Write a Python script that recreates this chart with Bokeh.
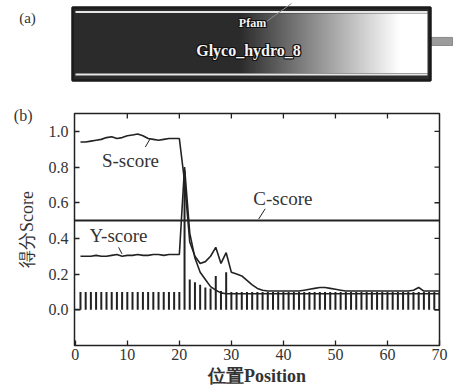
import numpy as np
from bokeh.plotting import figure
from bokeh.models import (Range1d, LinearAxis, ColumnDataSource, FixedTicker,
                          LinearColorMapper, Span)
from bokeh.palettes import Greys256
from bokeh.layouts import column, row
from bokeh.embed import file_html
from bokeh.resources import INLINE
from bokeh.core.properties import value

# ---------------- data ----------------
positions = list(range(1, 71))
s_score = [0.94, 0.94, 0.945, 0.95, 0.955, 0.965, 0.97, 0.96, 0.965, 0.975,
           0.98, 0.985, 0.975, 0.96, 0.955, 0.95, 0.955, 0.96, 0.96, 0.96,
           0.72, 0.38, 0.30, 0.26, 0.27, 0.30, 0.35, 0.26, 0.32, 0.21,
           0.20, 0.19, 0.165, 0.14, 0.12, 0.11, 0.105, 0.105, 0.105, 0.105,
           0.105, 0.105, 0.105, 0.11, 0.115, 0.12, 0.125, 0.125, 0.12, 0.115,
           0.11, 0.105, 0.105, 0.105, 0.105, 0.105, 0.105, 0.105, 0.105, 0.105,
           0.105, 0.105, 0.105, 0.105, 0.11, 0.125, 0.105, 0.105, 0.105, 0.105]
y_score = [0.30, 0.30, 0.30, 0.305, 0.30, 0.30, 0.305, 0.31, 0.30, 0.305,
           0.305, 0.31, 0.305, 0.305, 0.31, 0.31, 0.305, 0.31, 0.31, 0.31,
           0.80, 0.43, 0.29, 0.21, 0.17, 0.13, 0.11, 0.095, 0.09, 0.09,
           0.09, 0.09, 0.09, 0.09, 0.09, 0.09, 0.09, 0.09, 0.09, 0.09,
           0.09, 0.09, 0.09, 0.09, 0.09, 0.09, 0.09, 0.09, 0.09, 0.09,
           0.09, 0.09, 0.09, 0.09, 0.09, 0.09, 0.09, 0.09, 0.09, 0.09,
           0.09, 0.09, 0.09, 0.09, 0.09, 0.09, 0.09, 0.09, 0.09, 0.09]
c_raw = [0.10, 0.10, 0.10, 0.10, 0.10, 0.10, 0.10, 0.10, 0.10, 0.10,
         0.10, 0.10, 0.10, 0.10, 0.10, 0.10, 0.10, 0.10, 0.10, 0.10,
         0.78, 0.17, 0.155, 0.14, 0.125, 0.12, 0.19, 0.105, 0.21, 0.10,
         0.10, 0.10, 0.10, 0.10, 0.10, 0.10, 0.10, 0.10, 0.10, 0.10,
         0.10, 0.10, 0.10, 0.10, 0.10, 0.10, 0.10, 0.10, 0.10, 0.10,
         0.10, 0.10, 0.10, 0.10, 0.10, 0.10, 0.10, 0.10, 0.10, 0.10,
         0.10, 0.10, 0.10, 0.10, 0.10, 0.10, 0.10, 0.10, 0.10, 0.10]
c_cutoff = 0.5
x_ticks = [0, 10, 20, 30, 40, 50, 60, 70]
x_tick_labels = ["0", "10", "20", "30", "40", "50", "60", "70"]
y_ticks = [0.0, 0.2, 0.4, 0.6, 0.8, 1.0]
y_tick_labels = ["0.0", "0.2", "0.4", "0.6", "0.8", "1.0"]

# panel (a): domain schematic (residue coordinates)
domain_db = "Pfam"
domain_name = "Glyco_hydro_8"
domain_start = 1
domain_end = 359
protein_end = 381

INK = "#222222"
TXT = "#333333"
SERIF = "Liberation Serif"

# ---------------- panel (a) ----------------
pa = figure(width=454, height=96, x_range=Range1d(-71, 383), y_range=Range1d(-1.438, 1.192),
            x_axis_type=None, y_axis_type=None, output_backend="svg",
            toolbar_location=None, min_border=0)
pa.grid.visible = False
pa.outline_line_color = None

pa.quad(left=[domain_end], right=[protein_end], bottom=[-0.04], top=[0.18],
        fill_color="#9c9c9c", line_color="#8a8a8a")
pa.quad(left=[domain_start], right=[domain_end], bottom=[-1.0], top=[1.0],
        fill_color="#2b2b2b", line_color="#1a1a1a", line_width=2.5)

n = 400
px = np.linspace(76, 427, n)
s = np.clip((px - 240) / (400 - 240), 0, 1)
ramp = 0.17 + 0.83 * s
pa.image(image=[ramp.reshape(1, n)], x=domain_start + 3, y=-0.80,
         dw=domain_end - domain_start - 6, dh=1.64,
         color_mapper=LinearColorMapper(palette=Greys256, low=0, high=1))
pa.segment(x0=[domain_start + 3, domain_start + 3], x1=[domain_end - 3, domain_end - 3],
           y0=[0.877, -0.836], y1=[0.877, -0.836], line_color="#e6e6e6", line_width=2)

pa.segment(x0=[195], y0=[0.616], x1=[220], y1=[1.11], line_color="#8c8c8c", line_width=1)


def outlined(p, x, y, txt, size, font, style):
    for dx, dy in [(-1, 0), (1, 0), (0, -1), (0, 1), (-1, -1), (1, 1), (-1, 1), (1, -1)]:
        p.text(x=[x], y=[y], text=[txt], x_offset=dx, y_offset=dy, text_color="#111111",
               text_font=value(font), text_font_size=size, text_font_style=style,
               text_align="center", text_baseline="middle")
    p.text(x=[x], y=[y], text=[txt], text_color="#f4f4f4",
           text_font=value(font), text_font_size=size, text_font_style=style,
           text_align="center", text_baseline="middle")


outlined(pa, 181, 0.562, domain_db, "12px", "Liberation Sans Narrow", "bold")
outlined(pa, 177, -0.178, domain_name, "16px", "Liberation Sans Narrow", "bold")

pa.text(x=[-44], y=[0.713], text=["(a)"], text_font=value(SERIF),
        text_font_size="15px", text_color=TXT, text_align="center", text_baseline="middle")

# ---------------- panel (b) ----------------
pb = figure(width=454, height=293, x_range=Range1d(-0.15, 70), y_range=Range1d(-0.2, 1.1),
            output_backend="svg", toolbar_location=None,
            min_border_left=74, min_border_right=15, min_border_top=17, min_border_bottom=44)
pb.grid.visible = False
pb.outline_line_color = INK
pb.outline_line_width = 1.5

pb.xaxis.ticker = FixedTicker(ticks=x_ticks)
pb.xaxis.major_label_overrides = {t: l for t, l in zip(x_ticks, x_tick_labels)}
pb.yaxis.ticker = FixedTicker(ticks=y_ticks)
pb.yaxis.major_label_overrides = {t: l for t, l in zip(y_ticks, y_tick_labels)}

# outer left axis: carries the panel tag "(b)" and the y-axis title
panel_tag_y = 1.09
tag_axis = LinearAxis(ticker=FixedTicker(ticks=[panel_tag_y]),
                      major_label_overrides={panel_tag_y: "(b)"})
pb.add_layout(tag_axis, "left")

for ax in pb.axis:
    ax.axis_line_color = None
    ax.major_tick_in = 5
    ax.major_tick_out = 0
    ax.major_tick_line_color = INK
    ax.major_tick_line_width = 1.3
    ax.minor_tick_line_color = None
    ax.major_label_text_font = SERIF
    ax.major_label_text_font_size = "16px"
    ax.major_label_text_color = TXT

tag_axis.major_tick_line_color = None
tag_axis.major_tick_in = 0
tag_axis.major_label_standoff = 13

pb.xaxis.major_label_standoff = 3
pb.yaxis[0].major_label_standoff = 6
pb.xaxis.axis_label = "位置Position"
pb.xaxis.axis_label_text_font = SERIF
pb.xaxis.axis_label_text_font_size = "18px"
pb.xaxis.axis_label_text_font_style = "bold"
pb.xaxis.axis_label_text_color = TXT
pb.xaxis.axis_label_standoff = 3
tag_axis.axis_label = "得分Score"
tag_axis.axis_label_text_font = SERIF
tag_axis.axis_label_text_font_size = "18px"
tag_axis.axis_label_text_font_style = "normal"
tag_axis.axis_label_text_color = TXT
tag_axis.axis_label_standoff = -26

# inward ticks on the top and right frame edges
tick_len_y = 5 / 178
tick_len_x = 5 / 5.2
top_t = x_ticks[1:-1]
pb.segment(x0=top_t, x1=top_t, y0=[1.1] * len(top_t), y1=[1.1 - tick_len_y] * len(top_t),
           line_color=INK, line_width=1.3)
pb.segment(x0=[70] * len(y_ticks), x1=[70 - tick_len_x] * len(y_ticks), y0=y_ticks, y1=y_ticks,
           line_color=INK, line_width=1.3)

src = ColumnDataSource(dict(x=positions, s=s_score, y=y_score, c=c_raw,
                            zero=[0.0] * len(positions)))
pb.segment(x0="x", y0="zero", x1="x", y1="c", source=src, line_color=INK, line_width=2)
pb.segment(x0=[positions[0] - 1, positions[-2]], y0=[0, 0], x1=[positions[0], positions[-1]],
           y1=[0, 0], line_color=INK, line_width=1.5)
pb.add_layout(Span(location=c_cutoff, dimension="width", line_color=INK, line_width=2))
pb.line("x", "y", source=src, line_color=INK, line_width=1.6)
pb.line("x", "s", source=src, line_color=INK, line_width=1.6)

ann = dict(text_font=value(SERIF), text_font_size="19px", text_color=TXT,
           text_align="center", text_baseline="middle")
pb.text(x=[10.6], y=[0.837], text=["S-score"], **ann)
pb.text(x=[39.9], y=[0.626], text=["C-score"], **ann)
pb.text(x=[8.3], y=[0.416], text=["Y-score"], **ann)
pb.segment(x0=[13.46, 36.5, 8.33], y0=[0.912, 0.566, 0.35],
           x1=[14.4, 35.25, 8.98], y1=[0.959, 0.509, 0.313], line_color=INK, line_width=1)

layout = column(row(pa), pb)
open("out.html", "w").write(file_html(layout, INLINE))
